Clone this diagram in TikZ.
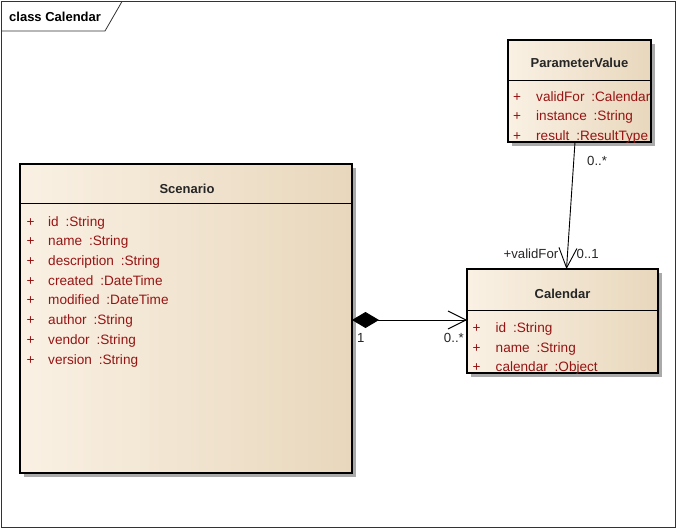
\documentclass[tikz,border=0pt]{standalone}
\usepackage{fontspec}
\setmainfont{Liberation Sans}
\usetikzlibrary{arrows.meta,calc}

\definecolor{umlcream}{RGB}{250,241,228}
\definecolor{umltan}{RGB}{232,215,188}
\definecolor{umlattr}{RGB}{150,20,20}
\definecolor{umlshadow}{RGB}{170,170,170}

\tikzset{
  classbox/.style={draw=black, line width=1.1pt, left color=umlcream, middle color=umlcream, right color=umltan},
  classshadow/.style={fill=umlshadow, draw=none},
  classtitle/.style={font=\fontsize{13}{15}\selectfont\bfseries, text=black!85, inner sep=0pt},
  attr/.style={font=\fontsize{13.6}{15}\selectfont, text=umlattr, anchor=base west, inner sep=0pt},
  mult/.style={font=\fontsize{13.2}{15}\selectfont, text=black!85, inner sep=0pt},
  link/.style={draw=black, line width=0.9pt},
}

% gap between an attribute name and its type
\newcommand{\ty}{\hspace{0.5em}:}

% draws a class box with shadow and header separator
\newcommand{\umlclass}[6]{% name, x1, y1, x2, y2, separator y
  \fill[classshadow] (#2+4,#3+4) rectangle (#4+4,#5+4);
  \path[classbox] (#2,#3) rectangle (#4,#5);
  \draw[line width=1pt] (#2,#6) -- (#4,#6);
  \coordinate (#1-nw) at (#2,#3);
  \coordinate (#1-se) at (#4,#5);
}

\begin{document}
\begin{tikzpicture}[x=1pt,y=-1pt]
  \useasboundingbox (0,0) rectangle (677,529);

  % diagram frame and its name tab
  \draw[black!80, line width=0.8pt] (1.5,1.5) rectangle (675.5,527.5);
  \draw[black!80, line width=0.8pt] (1.5,31) -- (105,31) -- (122,1.5);
  \node[font=\fontsize{13}{15}\selectfont\bfseries, anchor=base west, inner sep=0pt] (frametitle) at (9,21.5) {class Calendar};

  % Scenario
  \umlclass{scen}{20}{164}{352}{473}{204}
  \node[classtitle] (scentitle) at (187,189) {Scenario};
  \foreach \y/\t [count=\i] in {226.5/id\ty String, 246/name\ty String, 265.5/description\ty String, 285.5/created\ty DateTime, 305/modified\ty DateTime, 324.5/author\ty String, 344.5/vendor\ty String, 364/version\ty String}{
    \node[attr] (scenplus\i) at (26.5,\y) {+};
    \node[attr] (scenattr\i) at (48,\y) {\t};
  }

  % ParameterValue
  \umlclass{pv}{508}{40}{651}{142}{81}
  \node[classtitle] (pvtitle) at (579.5,63) {ParameterValue};
  \foreach \y/\t [count=\i] in {101.5/validFor\ty Calendar, 121/instance\ty String, 140.5/result\ty ResultType}{
    \node[attr] (pvplus\i) at (513,\y) {+};
    \node[attr] (pvattr\i) at (536,\y) {\t};
  }

  % Calendar
  \umlclass{cal}{467}{269}{658}{373}{310}
  \node[classtitle] (caltitle) at (562.5,294) {Calendar};
  \foreach \y/\t [count=\i] in {332.5/id\ty String, 352/name\ty String, 371.5/calendar\ty Object}{
    \node[attr] (calplus\i) at (472.5,\y) {+};
    \node[attr] (calattr\i) at (495.5,\y) {\t};
  }

  % composition Scenario -> Calendar
  \coordinate (compsrc) at ($(scen-se |- 0,320)$);
  \coordinate (comptgt) at ($(cal-nw |- 0,320)$);
  \draw[link, {Diamond[length=27pt,width=16pt]}-{Straight Barb[length=18pt,width=18pt,line width=0.9pt]}] (compsrc) -- (comptgt);
  \node[mult, anchor=base west] (comp1) at (357,342.5) {1};
  \node[mult, anchor=base east] (comp0n) at (464,342.5) {0..*};

  % association ParameterValue -> Calendar
  \coordinate (assocsrc) at (575,142);
  \coordinate (assoctgt) at (566.5,269);
  \draw[link, -{Straight Barb[length=20pt,width=18pt,line width=0.9pt]}] (assocsrc) -- (assoctgt);
  \node[mult, anchor=base west] (assoc0n) at (587,165.5) {0..*};
  \node[mult, anchor=base east] (assocrole) at (558.5,258.5) {+validFor};
  \node[mult, anchor=base west] (assoc01) at (576.5,258.5) {0..1};
\end{tikzpicture}
\end{document}
